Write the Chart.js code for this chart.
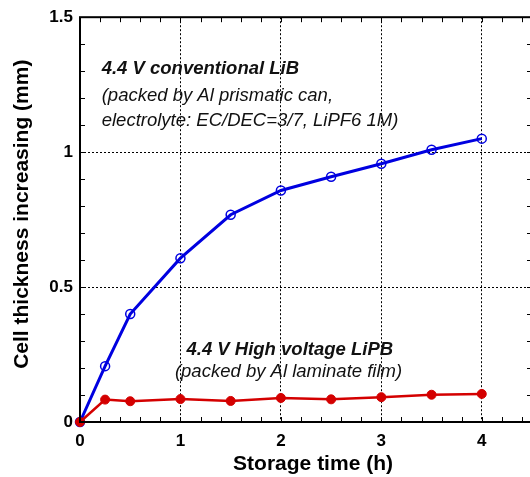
<!DOCTYPE html>
<html>
<head>
<meta charset="utf-8">
<script src="https://cdn.jsdelivr.net/npm/chart.js@4.4.0/dist/chart.umd.min.js"></script>
<style>
  html, body { margin: 0; padding: 0; background: #fff; overflow: hidden; }
  #wrap { width: 540px; height: 477px; }
</style>
</head>
<body>
<div id="wrap"><canvas id="myChart" width="540" height="477"></canvas></div>
<script>
// storage time (h)
const storageTime = [0, 0.25, 0.5, 1, 1.5, 2, 2.5, 3, 3.5, 4];
// cell thickness increase (mm)
const thickLiB = [0, 0.207, 0.40, 0.607, 0.768, 0.858, 0.909, 0.957, 1.009, 1.05];
const thickLiPB = [0, 0.083, 0.077, 0.085, 0.078, 0.089, 0.084, 0.092, 0.101, 0.104];

const xTitle = "Storage time (h)";
const yTitle = "Cell thickness increasing (mm)";
const noteLiB = ["4.4 V conventional LiB", "(packed by Al prismatic can,", "electrolyte: EC/DEC=3/7, LiPF6 1M)"];
const noteLiPB = ["4.4 V High voltage LiPB", "(packed by Al laminate film)"];

const FONT = '"Liberation Sans", Arial, sans-serif';

function toPoints(xs, ys) {
    return xs.map((x, i) => ({ x: x, y: ys[i] }));
}

// frame, inward minor ticks, axis titles and the text notes
const framePlugin = {
    id: "frame",
    afterDatasetsDraw(chart) {
        const ctx = chart.ctx;
        const a = chart.chartArea;
        const xs = chart.scales.x;
        const ys = chart.scales.y;
        ctx.save();
        ctx.strokeStyle = "#000";
        ctx.lineWidth = 1;
        ctx.beginPath();
        for (let v = 0.2; v < 4.5; v += 0.2) {
            const px = Math.round(xs.getPixelForValue(v)) + 0.5;
            ctx.moveTo(px, a.bottom); ctx.lineTo(px, a.bottom - 5);
            ctx.moveTo(px, a.top); ctx.lineTo(px, a.top + 5);
        }
        for (let v = 0.1; v < 1.5; v += 0.1) {
            const py = Math.round(ys.getPixelForValue(v)) + 0.5;
            ctx.moveTo(a.left, py); ctx.lineTo(a.left + 5, py);
            ctx.moveTo(a.right, py); ctx.lineTo(a.right - 5, py);
        }
        ctx.stroke();
        ctx.lineWidth = 2;
        ctx.strokeRect(a.left, a.top, a.right - a.left, a.bottom - a.top);
        ctx.restore();
    },
    afterDraw(chart) {
        const ctx = chart.ctx;
        const xs = chart.scales.x;
        const ys = chart.scales.y;
        ctx.save();
        ctx.fillStyle = "#000";
        // axis titles
        ctx.font = "bold 21px " + FONT;
        ctx.textAlign = "center";
        ctx.textBaseline = "middle";
        ctx.fillText(xTitle, xs.getPixelForValue(2.32), 464);
        ctx.save();
        ctx.translate(22, ys.getPixelForValue(0.77));
        ctx.rotate(-Math.PI / 2);
        ctx.fillText(yTitle, 0, 0);
        ctx.restore();

        ctx.fillStyle = "#111";
        ctx.textBaseline = "alphabetic";
        ctx.textAlign = "left";
        // upper note
        let x0 = xs.getPixelForValue(0.216);
        ctx.font = "italic bold 18.5px " + FONT;
        ctx.fillText(noteLiB[0], x0, ys.getPixelForValue(1.29));
        ctx.font = "italic 18.5px " + FONT;
        ctx.fillText(noteLiB[1], x0, ys.getPixelForValue(1.19));
        ctx.fillText(noteLiB[2], x0, ys.getPixelForValue(1.098));
        // lower note
        ctx.font = "italic bold 18.5px " + FONT;
        ctx.fillText(noteLiPB[0], xs.getPixelForValue(1.06), ys.getPixelForValue(0.247));
        ctx.font = "italic 18.5px " + FONT;
        ctx.fillText(noteLiPB[1], xs.getPixelForValue(0.945), ys.getPixelForValue(0.165));
        ctx.restore();
    }
};

const ctx = document.getElementById("myChart").getContext("2d");
const myChart = new Chart(ctx, {
    type: "scatter",
    data: {
        datasets: [
            {
                label: "LiPB",
                data: toPoints(storageTime, thickLiPB),
                showLine: true,
                borderColor: "#d40000",
                backgroundColor: "#d40000",
                borderWidth: 2.5,
                pointRadius: 4.5,
                pointBorderWidth: 1,
                order: 0,
                clip: false
            },
            {
                label: "LiB",
                data: toPoints(storageTime, thickLiB),
                showLine: true,
                borderColor: "#0000e0",
                backgroundColor: "rgba(0,0,0,0)",
                borderWidth: 3,
                pointRadius: 4.5,
                pointBorderWidth: 1.5,
                order: 1,
                clip: false
            }
        ]
    },
    options: {
        responsive: false,
        animation: false,
        layout: { padding: { left: 0, top: 16, right: 8, bottom: 0 } },
        plugins: {
            legend: { display: false },
            tooltip: { enabled: false }
        },
        scales: {
            x: {
                type: "linear",
                min: 0,
                max: 4.5,
                afterFit: (scale) => { scale.height = 55; },
                border: { display: false, dash: [2, 2] },
                grid: { color: "#000", lineWidth: 1, drawTicks: false },
                ticks: {
                    stepSize: 1,
                    includeBounds: false,
                    padding: 9,
                    color: "#000",
                    font: { family: FONT, size: 17, weight: "bold" },
                    callback: (v) => String(v)
                }
            },
            y: {
                min: 0,
                max: 1.5,
                afterFit: (scale) => { scale.width = 80; },
                border: { display: false, dash: [2, 2] },
                grid: { color: "#000", lineWidth: 1, drawTicks: false },
                ticks: {
                    stepSize: 0.5,
                    padding: 7,
                    color: "#000",
                    font: { family: FONT, size: 17, weight: "bold" },
                    callback: (v) => String(v)
                }
            }
        }
    },
    plugins: [framePlugin]
});
</script>
</body>
</html>
